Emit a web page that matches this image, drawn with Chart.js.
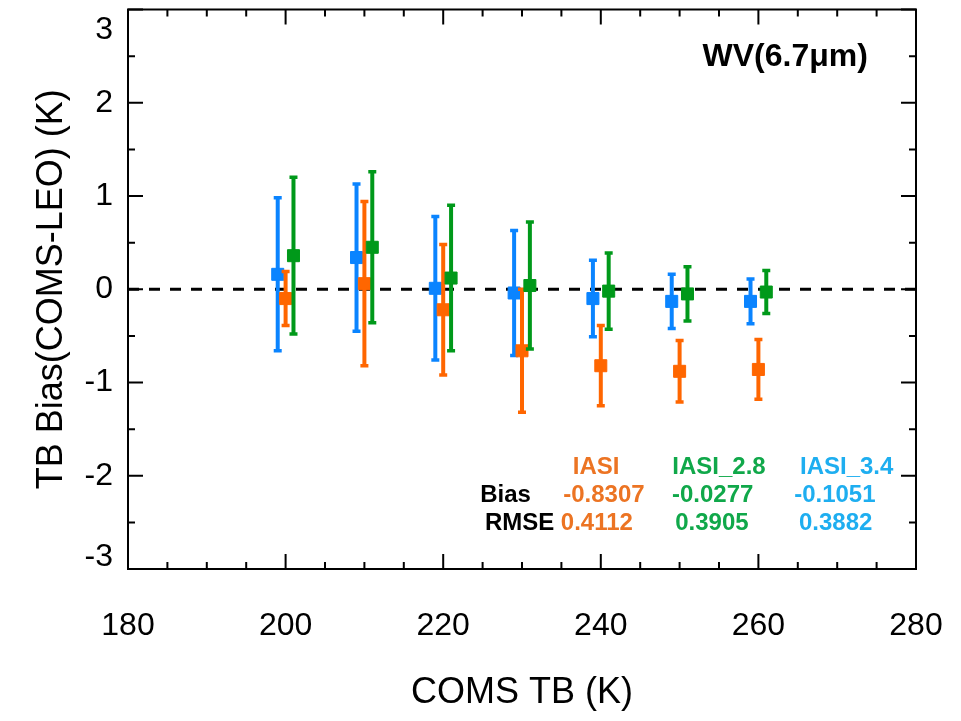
<!DOCTYPE html>
<html>
<head>
    <title>TB Bias WV</title>
    <script src="https://cdn.jsdelivr.net/npm/chart.js"></script>
    <style>
        body { margin: 0; background: #fff; }
    </style>
</head>
<body>
    <div style="width: 961px; height: 721px;">
        <canvas id="biasChart"></canvas>
    </div>

    <script>
        // bins of COMS TB (K)
        const tbBins = [200, 210, 220, 230, 240, 250, 260];

        // mean bias and std (K)
        const iasiBias   = [-0.10, 0.06, -0.22, -0.66, -0.82, -0.88, -0.86];
        const iasiStd    = [0.29, 0.88, 0.70, 0.66, 0.43, 0.33, 0.32];
        const iasi28Bias = [0.36, 0.45, 0.12, 0.04, -0.02, -0.05, -0.03];
        const iasi28Std  = [0.84, 0.81, 0.78, 0.68, 0.41, 0.29, 0.23];
        const iasi34Bias = [0.16, 0.34, 0.01, -0.04, -0.10, -0.13, -0.13];
        const iasi34Std  = [0.82, 0.79, 0.77, 0.67, 0.41, 0.29, 0.24];

        const yTicks = [-3, -2, -1, 0, 1, 2, 3];

        // summary table
        const statNames = ['IASI', 'IASI_2.8', 'IASI_3.4'];
        const statBias  = ['-0.8307', '-0.0277', '-0.1051'];
        const statRmse  = ['0.4112', '0.3905', '0.3882'];

        const FONT = "'Liberation Sans', Arial, sans-serif";
        Chart.defaults.font.family = FONT;
        Chart.defaults.color = '#000';

        const series = [
            { bias: iasi34Bias, std: iasi34Std, shift: -1, color: '#0a84ff' },
            { bias: iasiBias,   std: iasiStd,   shift: 0,  color: '#ff6600' },
            { bias: iasi28Bias, std: iasi28Std, shift: 1,  color: '#00991a' }
        ];

        const datasets = [{
            type: 'line',
            data: [{ x: 180, y: 0 }, { x: 280, y: 0 }],
            borderColor: '#000',
            borderWidth: 3,
            borderDash: [11, 10],
            pointRadius: 0
        }];

        series.forEach(s => {
            const bars = [], caps = [], marks = [];
            tbBins.forEach((tb, i) => {
                const x = tb + s.shift;
                const lo = s.bias[i] - s.std[i];
                const hi = s.bias[i] + s.std[i];
                bars.push({ x: x, y: lo }, { x: x, y: hi }, { x: x, y: null });
                caps.push({ x: x, y: lo }, { x: x, y: hi });
                marks.push({ x: x, y: s.bias[i] });
            });
            datasets.push({ type: 'line', data: bars, borderColor: s.color, borderWidth: 4,
                            pointRadius: 0, spanGaps: false });
            datasets.push({ type: 'scatter', data: caps, pointStyle: 'line', pointRadius: 4,
                            borderColor: s.color, borderWidth: 3.5 });
            datasets.push({ type: 'scatter', data: marks, pointStyle: 'rect', pointRadius: 8.5,
                            backgroundColor: s.color, borderColor: s.color, borderWidth: 1 });
        });
        // first dataset drawn at the bottom
        datasets.forEach((d, i) => { d.order = datasets.length - i; });

        // text placed in data coordinates
        const orange = '#ec7423', green = '#10a84a', blue = '#1eaef0';
        const notes = [
            { text: 'WV(6.7μm)', x: 263.4, y: 2.49, color: '#000', size: 32 },
            { text: statNames[0], x: 239.4, y: -1.91, color: orange, size: 24 },
            { text: statNames[1], x: 255.0, y: -1.91, color: green, size: 24 },
            { text: statNames[2], x: 271.2, y: -1.91, color: blue, size: 24 },
            { text: 'Bias', x: 224.7, y: -2.21, color: '#000', size: 24, align: 'left' },
            { text: statBias[0], x: 240.4, y: -2.21, color: orange, size: 24 },
            { text: statBias[1], x: 254.2, y: -2.21, color: green, size: 24 },
            { text: statBias[2], x: 269.7, y: -2.21, color: blue, size: 24 },
            { text: 'RMSE', x: 225.3, y: -2.51, color: '#000', size: 24, align: 'left' },
            { text: statRmse[0], x: 239.5, y: -2.51, color: orange, size: 24 },
            { text: statRmse[1], x: 254.1, y: -2.51, color: green, size: 24 },
            { text: statRmse[2], x: 269.8, y: -2.51, color: blue, size: 24 }
        ];

        const frame = {
            id: 'frame',
            afterDraw(chart) {
                const { ctx, chartArea: a, scales: { x, y } } = chart;
                ctx.save();
                ctx.strokeStyle = '#000';
                ctx.lineWidth = 2;
                ctx.strokeRect(a.left, a.top, a.right - a.left, a.bottom - a.top);

                // inward ticks on all four sides
                ctx.beginPath();
                for (let v = 180; v <= 280; v += 5) {
                    const px = x.getPixelForValue(v);
                    const len = v % 20 === 0 ? 15 : 7;
                    ctx.moveTo(px, a.bottom); ctx.lineTo(px, a.bottom - len);
                    ctx.moveTo(px, a.top); ctx.lineTo(px, a.top + len);
                }
                for (let v = -3; v <= 3; v += 0.5) {
                    const py = y.getPixelForValue(v);
                    const len = Number.isInteger(v) ? 15 : 7;
                    ctx.moveTo(a.left, py); ctx.lineTo(a.left + len, py);
                    ctx.moveTo(a.right, py); ctx.lineTo(a.right - len, py);
                }
                ctx.stroke();

                // y tick labels, kept inside the frame height
                ctx.fillStyle = '#000';
                ctx.font = '32px ' + FONT;
                ctx.textAlign = 'right';
                ctx.textBaseline = 'middle';
                yTicks.forEach(v => {
                    let py = y.getPixelForValue(v);
                    py = Math.min(Math.max(py, a.top + 21), a.bottom - 12);
                    ctx.fillText(String(v), a.left - 15, py);
                });

                notes.forEach(n => {
                    ctx.font = 'bold ' + n.size + 'px ' + FONT;
                    ctx.fillStyle = n.color;
                    ctx.textAlign = n.align || 'center';
                    ctx.fillText(n.text, x.getPixelForValue(n.x), y.getPixelForValue(n.y));
                });
                ctx.restore();
            }
        };

        new Chart(document.getElementById('biasChart'), {
            data: { datasets: datasets },
            options: {
                responsive: true,
                maintainAspectRatio: false,
                animation: false,
                events: [],
                layout: { padding: { top: 7, right: 45, bottom: 0, left: 0 } },
                plugins: {
                    legend: { display: false },
                    tooltip: { enabled: false }
                },
                scales: {
                    x: {
                        type: 'linear',
                        min: 180,
                        max: 280,
                        ticks: { stepSize: 20, font: { size: 32 }, color: '#000', padding: 38, maxRotation: 0 },
                        grid: { display: false, drawTicks: false },
                        border: { display: true, color: '#000', width: 2 },
                        title: { display: true, text: 'COMS TB (K)', font: { size: 36 }, color: '#000',
                                 padding: { top: 0, bottom: 6 } },
                        afterFit: scale => {
                            scale.paddingLeft = 0;
                            scale.paddingRight = 0;
                            scale.height = 152;
                        }
                    },
                    y: {
                        type: 'linear',
                        min: -3,
                        max: 3,
                        ticks: { display: false, stepSize: 1 },
                        grid: { display: false, drawTicks: false },
                        border: { display: true, color: '#000', width: 2 },
                        title: { display: true, text: 'TB Bias(COMS-LEO) (K)', font: { size: 36 }, color: '#000',
                                 padding: { top: 30, bottom: 0 } },
                        afterFit: scale => { scale.width = 128; }
                    }
                }
            },
            plugins: [frame]
        });
    </script>
</body>
</html>
